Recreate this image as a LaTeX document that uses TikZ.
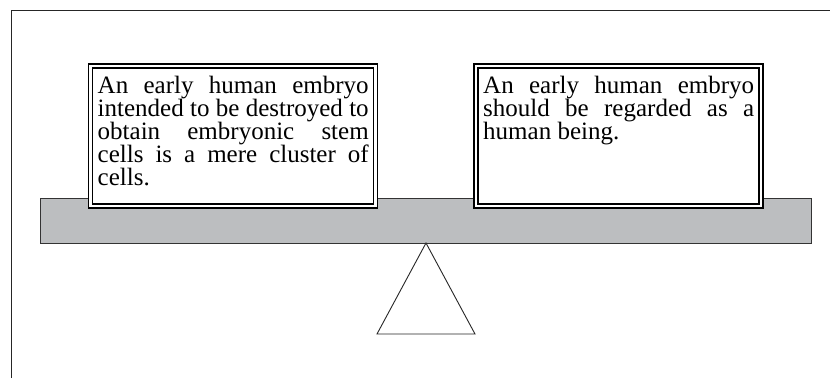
\documentclass[tikz,border=0pt]{standalone}
\usepackage{fontspec}
\setmainfont{Liberation Serif}
\begin{document}
\begin{tikzpicture}[x=1pt,y=-1pt,
  frameline/.style={line width=1pt,draw=black!85},
  claimbox/.style={rectangle,draw=black,double=white,double distance=2.6pt,line width=1.3pt,fill=white,minimum width=285pt,minimum height=140pt,inner sep=0pt},
  claimtext/.style={anchor=north west,inner sep=0pt,text width=271pt,align=justify,font=\fontsize{25}{23}\selectfont},
  beam/.style={fill=beamgray,draw=black!80,line width=0.8pt},
  pivot/.style={draw=black!85,line width=0.9pt,fill=white}]
\definecolor{beamgray}{RGB}{188,190,192}
\useasboundingbox (0,0) rectangle (830,378);
\draw[frameline] (11,378) -- (11,10) -- (830,10);
\path[beam] (40,198) rectangle (811,243);
\coordinate (apex) at (426,243);
\coordinate (bl) at (377,334);
\coordinate (br) at (475,334);
\draw[pivot] (apex) -- (br) -- (bl) -- cycle;
\node[claimbox] (lbox) at (233,136) {};
\node[claimbox] (rbox) at (618.5,136) {};
\node[claimtext] (ltext) at (97.5,76) {An early human embryo\linebreak intended to be destroyed to\linebreak obtain embryonic stem\linebreak cells is a mere cluster of\linebreak cells.};
\node[claimtext] (rtext) at (483,76) {An early human embryo\linebreak should be regarded as a\linebreak human being.};
\end{tikzpicture}
\end{document}
